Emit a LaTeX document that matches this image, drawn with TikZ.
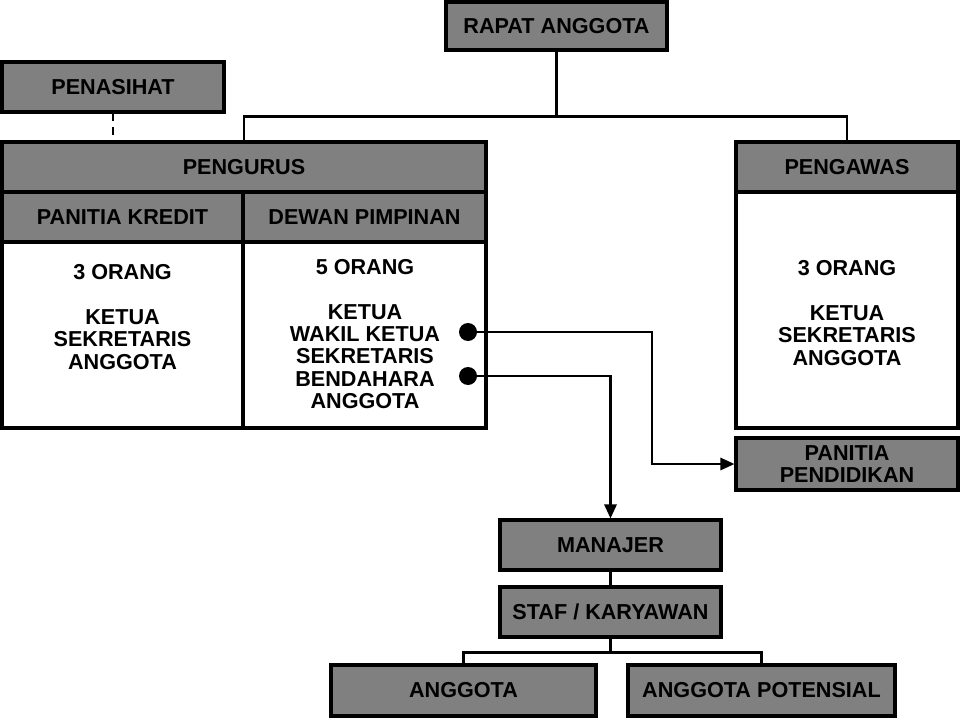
\documentclass[tikz,border=0pt]{standalone}
\usepackage{xcolor}
\usepackage{fontspec}
\setmainfont{Liberation Sans}
\usepackage{tikz}
\usetikzlibrary{arrows.meta,positioning}
\definecolor{boxgray}{RGB}{128,128,128}

\begin{document}
\begin{tikzpicture}[
    x=0.02cm, y=-0.02cm,
    sz/.style 2 args={minimum width=#1*0.02cm, minimum height=#2*0.02cm},
    kotak/.style={rectangle, draw=black, fill=boxgray, line width=1.8pt, inner sep=0pt, align=center, font=\fontsize{12.3}{12.75}\selectfont\bfseries},
    isi/.style={kotak, fill=white},
    teks/.style={inner sep=0pt, align=center, font=\fontsize{12.3}{12.75}\selectfont\bfseries},
    titik/.style={circle, fill=black, inner sep=0pt, minimum size=0.36cm},
    garis/.style={draw=black, line width=1.3pt},
    panah/.style={garis, -{Triangle[length=8pt,width=7pt]}}
]
\useasboundingbox (0,0) rectangle (960,720);

% atas
\node[kotak, sz={221}{48}] (rapat) at (556.5,26) {RAPAT ANGGOTA};
\node[kotak, sz={222}{50}] (penasihat) at (113,87) {PENASIHAT};

% pengurus
\node[kotak, sz={484}{50}] (pengurus) at (244,167) {PENGURUS};
\node[kotak, sz={241}{50}] (kredit) at (122.5,217) {PANITIA KREDIT};
\node[kotak, sz={243}{50}] (dewan) at (364.5,217) {DEWAN PIMPINAN};
\node[isi, sz={241}{186}] (kreditisi) at (122.5,335) {};
\node[isi, sz={243}{186}] (dewanisi) at (364.5,335) {};
\node[teks] (kreditteks) at (122.5,317) {3 ORANG\\[12.75pt]KETUA\\SEKRETARIS\\ANGGOTA};
\node[teks] (dewanteks) at (365,334) {5 ORANG\\[12.75pt]KETUA\\WAKIL KETUA\\SEKRETARIS\\BENDAHARA\\ANGGOTA};

% pengawas
\node[kotak, sz={222}{50}] (pengawas) at (847,167) {PENGAWAS};
\node[isi, sz={222}{236}] (pengawasisi) at (847,310) {};
\node[teks] (pengawasteks) at (847,313) {3 ORANG\\[12.75pt]KETUA\\SEKRETARIS\\ANGGOTA};
\node[kotak, sz={222}{52}] (pendidikan) at (847,464) {PANITIA\\PENDIDIKAN};

% bawah
\node[kotak, sz={221}{50}] (manajer) at (610.5,545) {MANAJER};
\node[kotak, sz={221}{50}] (staf) at (610.5,612) {STAF / KARYAWAN};
\node[kotak, sz={265}{51}] (anggota) at (463.5,690.5) {ANGGOTA};
\node[kotak, sz={267}{51}] (potensial) at (761.5,690.5) {ANGGOTA POTENSIAL};

\node[titik] (titika) at (468,332) {};
\node[titik] (titikb) at (468,376) {};

% garis
\path (rapat.south) ++(0,65) coordinate (cabang);
\draw[garis] (rapat.south) -- (cabang);
\draw[garis] (pengurus.north) |- (cabang) -| (pengawas.north);
\draw[garis, dash pattern=on 4.5pt off 3pt] (penasihat.south) -- (penasihat.south |- pengurus.north);

\coordinate (belok) at (652,332);
\draw[panah] (titika) -- (belok) |- (pendidikan.west);
\draw[panah] (titikb) -| (manajer.north);

\draw[garis] (manajer) -- (staf);
\path (staf.south) ++(0,14) coordinate (cabangb);
\draw[garis] (staf.south) -- (cabangb);
\draw[garis] (anggota.north) |- (cabangb) -| (potensial.north);
\end{tikzpicture}
\end{document}
